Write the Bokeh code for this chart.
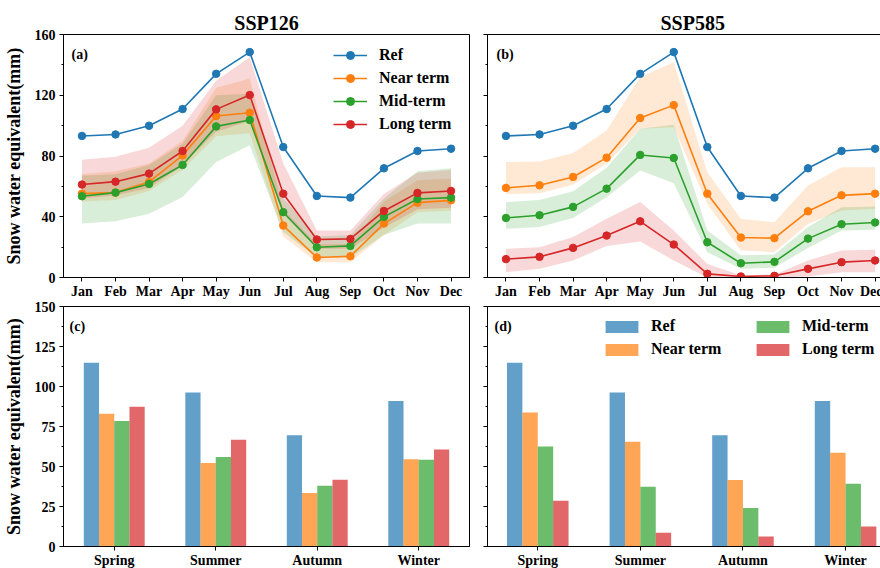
from bokeh.plotting import figure
from bokeh.layouts import column, row
from bokeh.models import (FixedTicker, SingleIntervalTicker, Legend, LegendItem,
                          Label, Range1d, ColumnDataSource, CustomJSTickFormatter)
from bokeh.embed import file_html
from bokeh.resources import INLINE
from bokeh.transform import dodge

# ---------------- data ----------------
months = ["Jan", "Feb", "Mar", "Apr", "May", "Jun", "Jul", "Aug", "Sep", "Oct", "Nov", "Dec"]
seasons = ["Spring", "Summer", "Autumn", "Winter"]
series = ["Ref", "Near term", "Mid-term", "Long term"]
colors = ["#1f77b4", "#ff7f0e", "#2ca02c", "#d62728"]

ref_month = [93.2, 94.2, 99.9, 110.9, 134.1, 148.4, 85.9, 53.7, 52.6, 71.9, 83.3, 84.8]

ssp126_near = [55.2, 55.9, 62.9, 80.4, 106.3, 108.5, 34.2, 13.2, 14.0, 35.5, 49.3, 50.8]
ssp126_near_lo = [50, 51, 57, 71, 93, 95, 27, 10, 10, 28, 43, 44]
ssp126_near_hi = [68, 70, 75, 90, 125, 131, 45, 22, 22, 50, 64, 65]
ssp126_mid = [53.5, 55.9, 61.6, 74.1, 99.5, 103.7, 43.0, 19.9, 20.8, 39.9, 51.7, 52.6]
ssp126_mid_lo = [35.5, 37, 42, 53, 76, 87, 30, 13, 13, 28, 35.5, 35.5]
ssp126_mid_hi = [67, 68, 74, 88, 120, 121, 52, 27, 28, 52, 70, 72]
ssp126_long = [61.2, 63.1, 68.4, 83.3, 110.7, 120.1, 55.2, 25.0, 25.4, 43.8, 55.7, 57.0]
ssp126_long_lo = [52, 54, 59, 74, 96, 103, 42, 19, 19, 33, 45, 46]
ssp126_long_hi = [77.5, 79.5, 85.5, 100, 129.5, 145, 75, 31, 31, 55, 69, 71]

ssp585_near = [59.0, 60.7, 66.2, 78.9, 105.0, 113.5, 55.2, 26.3, 25.9, 43.6, 54.1, 55.2]
ssp585_near_lo = [55, 55.5, 61, 75, 98, 99, 48.5, 17.8, 16.7, 35.3, 44.1, 45.2]
ssp585_near_hi = [76, 76.3, 82, 96.8, 131.9, 141.8, 69.3, 38.6, 36.4, 60.5, 72.6, 72.6]
ssp585_mid = [39.2, 41.0, 46.5, 58.5, 80.7, 78.7, 23.2, 9.4, 10.3, 25.6, 35.1, 36.2]
ssp585_mid_lo = [32.1, 33.2, 39.1, 52.9, 70.5, 62.1, 16.7, 5.7, 6.4, 19.5, 31.0, 31.4]
ssp585_mid_hi = [49.6, 51.1, 56.8, 72.2, 98, 100.5, 31, 14.6, 15.2, 33.2, 46.3, 46.7]
ssp585_long = [12.1, 13.6, 19.5, 27.6, 37.0, 21.7, 2.4, 0.7, 1.1, 5.7, 10.1, 11.2]
ssp585_long_lo = [3.5, 5.7, 11.2, 20.8, 23.7, 11.2, 0, 0, 0, 0.6, 3.5, 3.5]
ssp585_long_hi = [18.9, 20, 26.6, 38.7, 49.7, 31, 8.9, 1.5, 2, 11.2, 17.8, 18.2]

ref_season = [114.8, 96.2, 69.6, 90.9]
ssp126_season_near = [82.9, 52.2, 33.4, 54.6]
ssp126_season_mid = [78.4, 55.9, 37.9, 54.2]
ssp126_season_long = [87.4, 66.7, 41.7, 60.6]
ssp585_season_near = [83.8, 65.5, 41.5, 58.6]
ssp585_season_mid = [62.5, 37.4, 24.0, 39.2]
ssp585_season_long = [28.6, 8.6, 6.2, 12.5]

FONT = "Liberation Serif"
TOP_FH = 243
BOT_FH = 240


def style(p, left_labels):
    p.grid.visible = False
    p.outline_line_color = "black"
    p.outline_line_width = 1
    p.outline_line_alpha = 1
    for ax in (p.xaxis[0], p.yaxis[0]):
        ax.axis_line_color = "black"
        ax.major_tick_line_color = "black"
        ax.minor_tick_line_color = "black"
        ax.major_tick_out = 4
        ax.major_tick_in = 0
        ax.minor_tick_out = 2
        ax.minor_tick_in = 0
        ax.major_label_text_font = FONT
        ax.major_label_text_font_style = "bold"
        ax.major_label_text_font_size = "14px"
        ax.major_label_text_color = "black"
        ax.major_label_standoff = 2
        ax.axis_label_text_font = FONT
        ax.axis_label_text_font_style = "bold"
        ax.axis_label_text_font_size = "18px"
        ax.axis_label_text_color = "black"
    if left_labels:
        p.yaxis[0].axis_label = "Snow water equivalent(mm)"
        p.yaxis[0].axis_label_standoff = 8
        p.yaxis[0].major_label_standoff = 4
    else:
        p.yaxis[0].formatter = CustomJSTickFormatter(code="return ''")
        p.yaxis[0].major_label_standoff = 0


def panel_label(p, text, x, y):
    p.add_layout(Label(x=x, y=y, x_units="screen", y_units="screen",
                       text=text, text_font=FONT, text_font_style="bold",
                       text_font_size="14px", text_baseline="middle",
                       text_color="black"))


def make_legend(items, loc, gw, gh, standoff):
    return Legend(items=items, location=loc, border_line_color=None,
                  background_fill_alpha=0, label_text_font=FONT,
                  label_text_font_style="bold", label_text_font_size="16px",
                  label_text_color="black",
                  glyph_width=gw, glyph_height=gh, label_height=20,
                  label_standoff=standoff, spacing=3, padding=0, margin=0)


def line_panel(fw, x_end, mbl, mbr, title, title_align, title_offset,
               near, near_lo, near_hi, mid, mid_lo, mid_hi, long_, long_lo, long_hi,
               left_labels, legend):
    p = figure(frame_width=fw, frame_height=TOP_FH, x_range=Range1d(-0.55, x_end),
               y_range=Range1d(0, 160), toolbar_location=None, output_backend="svg",
               min_border_left=mbl, min_border_right=mbr, min_border_top=34,
               min_border_bottom=23, title=title)
    p.title.text_font = FONT
    p.title.text_font_style = "bold"
    p.title.text_font_size = "20px"
    p.title.text_color = "black"
    p.title.align = title_align
    p.title.offset = title_offset
    p.title.standoff = 2
    style(p, left_labels)
    x = list(range(12))
    p.xaxis[0].ticker = FixedTicker(ticks=x)
    p.xaxis[0].major_label_overrides = {i: m for i, m in enumerate(months)}
    p.yaxis[0].ticker = SingleIntervalTicker(interval=40, num_minor_ticks=2)

    bands = [(near_lo, near_hi, colors[1]), (mid_lo, mid_hi, colors[2]), (long_lo, long_hi, colors[3])]
    for lo, hi, c in bands:
        p.varea(x=x, y1=lo, y2=hi, fill_color=c, fill_alpha=0.18)
    items = []
    for name, vals, c in zip(series, [ref_month, near, mid, long_], colors):
        lr = p.line(x, vals, line_color=c, line_width=1.6)
        sr = p.scatter(x, vals, size=7.5, fill_color=c, line_color=c)
        items.append(LegendItem(label=name, renderers=[lr, sr]))
    if legend:
        p.add_layout(make_legend(items, (270, 143), 34, 20, 12))
    return p


def bar_panel(fw, x_start, x_end, mbl, mbr, near, mid, long_, left_labels, legend):
    p = figure(frame_width=fw, frame_height=BOT_FH, x_range=Range1d(x_start, x_end),
               y_range=Range1d(0, 150), toolbar_location=None, output_backend="svg",
               min_border_left=mbl, min_border_right=mbr, min_border_top=5,
               min_border_bottom=23)
    style(p, left_labels)
    xs = list(range(4))
    p.xaxis[0].ticker = FixedTicker(ticks=xs)
    p.xaxis[0].major_label_overrides = {i: s for i, s in enumerate(seasons)}
    p.yaxis[0].ticker = SingleIntervalTicker(interval=25, num_minor_ticks=2)
    src = ColumnDataSource(dict(x=xs, ref=ref_season, near=near, mid=mid, long=long_))
    offsets = [-0.225, -0.075, 0.075, 0.225]
    items = []
    for name, col, c, off in zip(series, ["ref", "near", "mid", "long"], colors, offsets):
        r = p.vbar(x=dodge("x", off), top=col, width=0.15, source=src,
                   fill_color=c, fill_alpha=0.7, line_color=None)
        items.append(LegendItem(label=name, renderers=[r]))
    if legend:
        p.add_layout(make_legend(items[:2], (114, 187), 41, 15, 9))
        p.add_layout(make_legend(items[2:], (265, 187), 41, 15, 9))
    return p


pa = line_panel(406, 11.55, 61, 9, "SSP126", "center", 0,
                ssp126_near, ssp126_near_lo, ssp126_near_hi,
                ssp126_mid, ssp126_mid_lo, ssp126_mid_hi,
                ssp126_long, ssp126_long_lo, ssp126_long_hi, True, True)
pb = line_panel(395, 11.22, 9, 0, "SSP585", "left", 173,
                ssp585_near, ssp585_near_lo, ssp585_near_hi,
                ssp585_mid, ssp585_mid_lo, ssp585_mid_hi,
                ssp585_long, ssp585_long_lo, ssp585_long_hi, False, False)
pc = bar_panel(406, -0.5, 3.5, 61, 9, ssp126_season_near, ssp126_season_mid,
               ssp126_season_long, True, False)
pd = bar_panel(395, -0.49, 3.36, 9, 0, ssp585_season_near, ssp585_season_mid,
               ssp585_season_long, False, True)

panel_label(pa, "(a)", 8, TOP_FH - 20)
panel_label(pb, "(b)", 9, TOP_FH - 20)
panel_label(pc, "(c)", 6, BOT_FH - 20)
panel_label(pd, "(d)", 7, BOT_FH - 20)

layout = column(row(pa, pb), row(pc, pd))
open("out.html", "w").write(file_html(layout, INLINE))
